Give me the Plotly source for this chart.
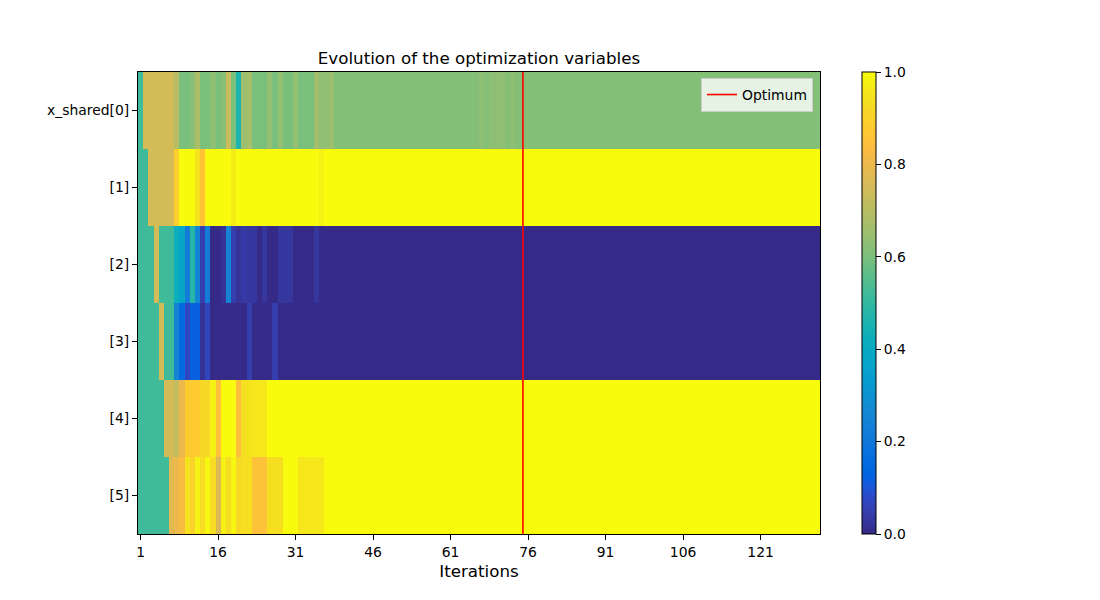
import plotly.graph_objects as go

# ---------------- data ----------------
n_iter = 132
iterations = list(range(1, n_iter + 1))
row_labels = ["x_shared[0]", "[1]", "[2]", "[3]", "[4]", "[5]"]
x_ticks = [1, 16, 31, 46, 61, 76, 91, 106, 121]
optimum_iteration = 75

row0 = ([0.52] + [0.75] * 6 + [0.70, 0.60, 0.60, 0.62, 0.68, 0.60, 0.60, 0.63, 0.60, 0.62, 0.73,
        0.60, 0.46, 0.65, 0.67, 0.60, 0.60, 0.60, 0.64, 0.60, 0.64, 0.60, 0.60, 0.64,
        0.60, 0.60, 0.60, 0.66, 0.63, 0.63, 0.65]
        + [0.615] * 28 + [0.63, 0.615, 0.63, 0.63, 0.63, 0.615, 0.63] + [0.615] * 59)
row1 = ([0.52] * 2 + [0.75] * 5 + [0.89, 1.0, 1.0, 1.0, 0.95, 0.86, 1.0, 1.0, 1.0, 1.0, 1.0, 0.97]
        + [1.0] * 16 + [0.98] + [1.0] * 96)
row2 = ([0.52] * 3 + [0.75] + [0.52] * 3 + [0.42, 0.38, 0.22, 0.48, 0.25, 0.05, 0.22, 0.0, 0.0,
        0.02, 0.25, 0.05, 0.02, 0.04, 0.03, 0.03, 0.0, 0.03, 0.0, 0.0, 0.03, 0.03, 0.03,
        0.0, 0.0, 0.0, 0.0, 0.03] + [0.0] * 97)
row3 = ([0.52] * 4 + [0.75] + [0.52] * 2 + [0.25, 0.15, 0.07, 0.12, 0.12, 0.02, 0.07]
        + [0.0] * 7 + [0.05] + [0.0] * 4 + [0.05] + [0.0] * 105)
row4 = ([0.52] * 5 + [0.75] * 2 + [0.72, 0.80, 0.88, 0.88, 0.88, 0.92, 0.92, 0.98, 0.85,
        1.0, 1.0, 1.0, 0.84, 0.94, 0.95, 0.96, 0.96, 0.96] + [1.0] * 107)
row5 = ([0.52] * 6 + [0.78, 0.80, 0.83, 0.95, 0.90, 0.98, 0.93, 0.99, 0.93, 0.77, 0.98, 0.93,
        0.99, 0.92, 0.94, 0.94, 0.85, 0.85, 0.85, 0.94, 0.94, 0.94, 1.0, 1.0, 1.0,
        0.96, 0.96, 0.96, 0.96, 0.96] + [1.0] * 96)
values = [row0, row1, row2, row3, row4, row5]

# ---------------- style ----------------
parula = [
    [0.2081, 0.1663, 0.5292], [0.2116, 0.1898, 0.5777], [0.2123, 0.2138, 0.6270],
    [0.2081, 0.2386, 0.6771], [0.1959, 0.2645, 0.7279], [0.1707, 0.2919, 0.7792],
    [0.1253, 0.3242, 0.8303], [0.0591, 0.3598, 0.8683], [0.0117, 0.3875, 0.8820],
    [0.0060, 0.4086, 0.8828], [0.0165, 0.4266, 0.8786], [0.0329, 0.4430, 0.8720],
    [0.0498, 0.4586, 0.8641], [0.0629, 0.4737, 0.8554], [0.0723, 0.4887, 0.8467],
    [0.0779, 0.5040, 0.8384], [0.0793, 0.5200, 0.8312], [0.0749, 0.5375, 0.8263],
    [0.0641, 0.5570, 0.8240], [0.0488, 0.5772, 0.8228], [0.0343, 0.5966, 0.8199],
    [0.0265, 0.6137, 0.8135], [0.0239, 0.6287, 0.8038], [0.0231, 0.6418, 0.7913],
    [0.0228, 0.6535, 0.7768], [0.0267, 0.6642, 0.7607], [0.0384, 0.6743, 0.7436],
    [0.0590, 0.6838, 0.7254], [0.0843, 0.6928, 0.7062], [0.1133, 0.7015, 0.6859],
    [0.1453, 0.7098, 0.6646], [0.1801, 0.7177, 0.6424], [0.2178, 0.7250, 0.6193],
    [0.2586, 0.7317, 0.5954], [0.3022, 0.7376, 0.5712], [0.3482, 0.7424, 0.5473],
    [0.3953, 0.7459, 0.5244], [0.4420, 0.7481, 0.5033], [0.4871, 0.7491, 0.4840],
    [0.5300, 0.7491, 0.4661], [0.5709, 0.7485, 0.4494], [0.6099, 0.7473, 0.4337],
    [0.6473, 0.7456, 0.4188], [0.6834, 0.7435, 0.4044], [0.7184, 0.7411, 0.3905],
    [0.7525, 0.7384, 0.3768], [0.7858, 0.7356, 0.3633], [0.8185, 0.7327, 0.3498],
    [0.8507, 0.7299, 0.3360], [0.8824, 0.7274, 0.3217], [0.9139, 0.7258, 0.3063],
    [0.9450, 0.7261, 0.2886], [0.9739, 0.7314, 0.2666], [0.9938, 0.7455, 0.2403],
    [0.9990, 0.7653, 0.2164], [0.9955, 0.7861, 0.1967], [0.9880, 0.8066, 0.1794],
    [0.9789, 0.8271, 0.1633], [0.9697, 0.8481, 0.1475], [0.9626, 0.8705, 0.1309],
    [0.9589, 0.8949, 0.1132], [0.9598, 0.9218, 0.0948], [0.9661, 0.9514, 0.0755],
    [0.9763, 0.9831, 0.0538],
]
colorscale = [[i / (len(parula) - 1),
               "rgb(%d,%d,%d)" % tuple(round(c * 255) for c in rgb)]
              for i, rgb in enumerate(parula)]

FONT = "DejaVu Sans"
TICK = 13.9
BIG = 16.7
L, R, T, B = 138, 820, 72, 534
W, H = 1100, 600
pw = R - L

fig = go.Figure()
fig.add_trace(go.Heatmap(
    z=values, x=iterations, y=list(range(len(row_labels))),
    colorscale=colorscale, zmin=0, zmax=1, showscale=True,
    hoverinfo="skip",
    colorbar=dict(
        thickness=14, thicknessmode="pixels", len=1, lenmode="fraction",
        x=(862 - L) / pw, xanchor="left", xpad=0, y=0.5, yanchor="middle", ypad=0,
        outlinewidth=1, outlinecolor="black",
        tickvals=[0, 0.2, 0.4, 0.6, 0.8, 1.0], tickformat=".1f",
        ticks="outside", ticklen=5, tickwidth=1, tickcolor="black",
        tickfont=dict(family=FONT, size=TICK, color="black"),
    ),
))
fig.add_trace(go.Scatter(
    x=[optimum_iteration, optimum_iteration], y=[-0.5, len(row_labels) - 0.5],
    mode="lines", line=dict(color="red", width=1.6), name="Optimum", showlegend=True,
))

fig.update_layout(
    width=W, height=H,
    margin=dict(l=L, r=W - R, t=T, b=H - B, pad=0),
    paper_bgcolor="white", plot_bgcolor="white",
    font=dict(family=FONT, size=TICK, color="black"),
    title=dict(text="Evolution of the optimization variables", x=(L + R) / 2 / W, xanchor="center",
               y=1 - 58 / H, yanchor="middle", yref="container",
               font=dict(family=FONT, size=BIG, color="black")),
    showlegend=True,
    legend=dict(x=(813 - L) / pw, xanchor="right", y=1 - (78 - T) / (B - T), yanchor="top",
                bgcolor="rgba(255,255,255,0.8)", bordercolor="#cccccc", borderwidth=1,
                font=dict(family=FONT, size=TICK, color="black"), tracegroupgap=0),
    xaxis=dict(range=[0.5, n_iter + 0.5], tickvals=x_ticks, ticks="outside", ticklen=5,
               tickcolor="black", showline=True, linecolor="black", linewidth=1, mirror=True,
               showgrid=False, zeroline=False,
               title=dict(text="Iterations", font=dict(family=FONT, size=BIG, color="black"),
                          standoff=6)),
    yaxis=dict(range=[len(row_labels) - 0.5, -0.5], tickvals=list(range(len(row_labels))),
               ticktext=row_labels, ticks="outside", ticklen=5, tickcolor="black",
               showline=True, linecolor="black", linewidth=1, mirror=True,
               showgrid=False, zeroline=False),
)

fig.write_html("out.html")
